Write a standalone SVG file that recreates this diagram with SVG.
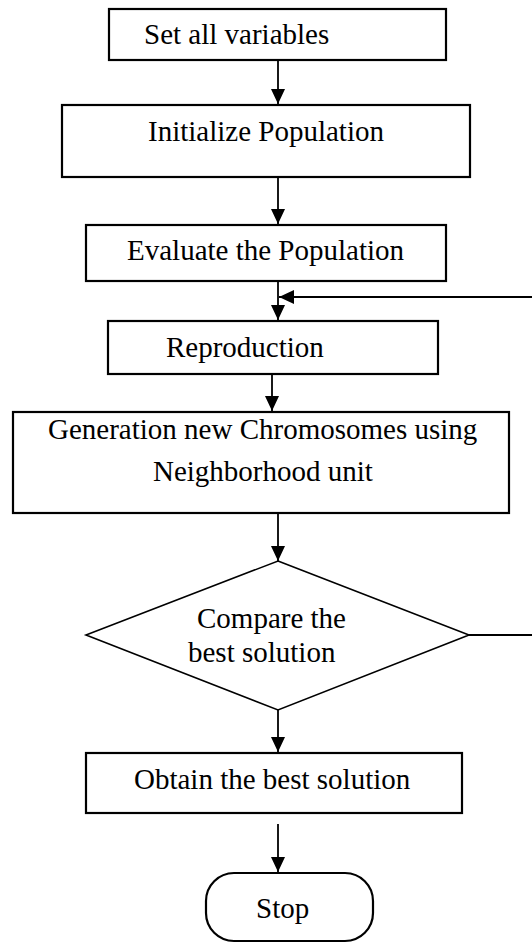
<svg xmlns="http://www.w3.org/2000/svg" width="532" height="944" viewBox="0 0 532 944">
<style>
.box{fill:#fff;stroke:#000;stroke-width:2.2}
.dia{fill:#fff;stroke:#000;stroke-width:1.6}
.t{font-family:"Liberation Serif","Times New Roman",serif;font-size:29px;fill:#000}
.c{stroke:#000;stroke-width:1.8;fill:none}
</style>
<defs>
<marker id="ah" markerUnits="userSpaceOnUse" markerWidth="15" markerHeight="14" refX="15" refY="7" orient="auto">
<path d="M0,0 L15,7 L0,14 z" fill="#000"/>
</marker>
</defs>
<rect width="532" height="944" fill="#fff"/>
<g id="connectors">
<line class="c" x1="278" y1="60" x2="278" y2="104" marker-end="url(#ah)"/>
<line class="c" x1="278" y1="177" x2="278" y2="224" marker-end="url(#ah)"/>
<line class="c" x1="278" y1="273" x2="278" y2="320" marker-end="url(#ah)"/>
<line class="c" x1="532" y1="297" x2="279" y2="297" marker-end="url(#ah)"/>
<line class="c" x1="272" y1="374" x2="272" y2="411" marker-end="url(#ah)"/>
<line class="c" x1="278" y1="513" x2="278" y2="561" marker-end="url(#ah)"/>
<line class="c" x1="469" y1="635" x2="532" y2="635"/>
<line class="c" x1="278" y1="705" x2="278" y2="752" marker-end="url(#ah)"/>
<line class="c" x1="278" y1="824" x2="278" y2="872" marker-end="url(#ah)"/>
</g>
<g id="set-vars">
<rect class="box" x="109" y="9" width="337" height="51"/>
<text class="t" x="144" y="44">Set all variables</text>
</g>
<g id="init-pop">
<rect class="box" x="62" y="105" width="408" height="72"/>
<text class="t" x="148" y="141">Initialize Population</text>
</g>
<g id="eval-pop">
<rect class="box" x="86" y="225" width="360" height="56"/>
<text class="t" x="127" y="260">Evaluate the Population</text>
</g>
<g id="reproduction">
<rect class="box" x="108" y="321" width="330" height="53"/>
<text class="t" x="166" y="357">Reproduction</text>
</g>
<g id="generation">
<rect class="box" x="13" y="412" width="496" height="101"/>
<text class="t" x="48" y="439">Generation new Chromosomes using</text>
<text class="t" x="153" y="481">Neighborhood unit</text>
</g>
<g id="compare">
<polygon class="dia" points="278,561 469,635 278,710 86,635"/>
<text class="t" x="197" y="628">Compare the</text>
<text class="t" x="188" y="662">best solution</text>
</g>
<g id="obtain">
<rect class="box" x="86" y="753" width="376" height="60"/>
<text class="t" x="134" y="789">Obtain the best solution</text>
</g>
<g id="stop">
<rect class="box" x="206" y="873" width="167" height="68" rx="28" ry="28"/>
<text class="t" x="256" y="918">Stop</text>
</g>
</svg>
